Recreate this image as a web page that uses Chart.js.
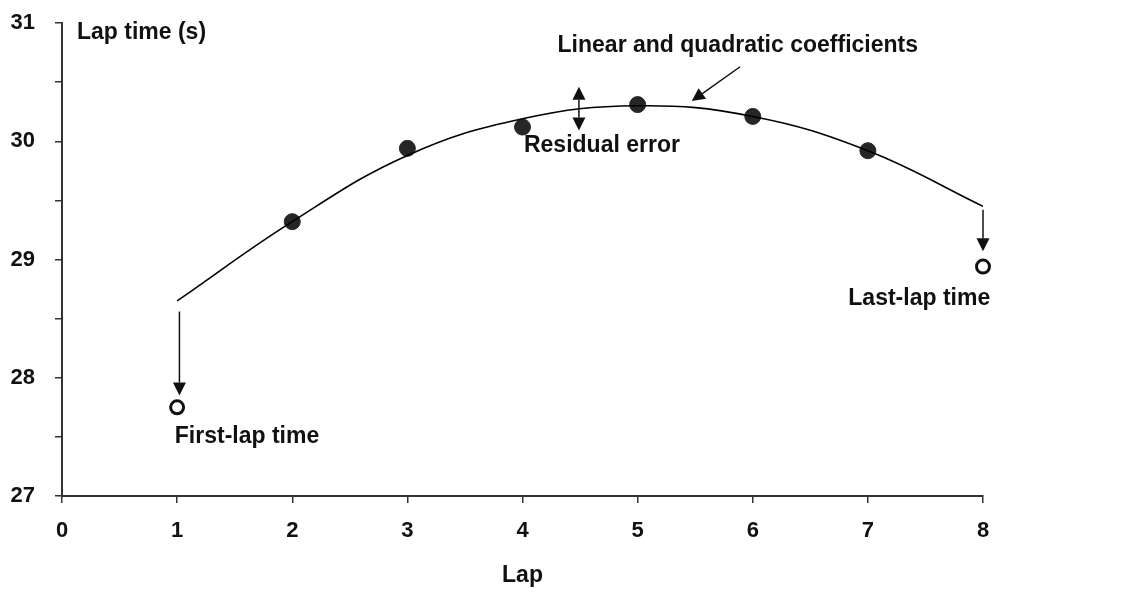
<!DOCTYPE html>
<html>
<head>
<meta charset="utf-8">
<script src="https://cdn.jsdelivr.net/npm/chart.js@4.4.1/dist/chart.umd.min.js"></script>
<style>
  html, body { margin: 0; background: #fff; }
  #wrap { width: 1147px; height: 597px; }
</style>
</head>
<body>
<div id="wrap"><canvas id="lapChart"></canvas></div>
<script>
// laps and times
const laps = [1, 2, 3, 4, 5, 6, 7, 8];
const fitTimes = [28.65, 29.32, 29.88, 30.19, 30.30, 30.21, 29.92, 29.45];
const middleLaps = [2, 3, 4, 5, 6, 7];
const middleTimes = [29.32, 29.94, 30.12, 30.31, 30.21, 29.92];
const endLaps = [1, 8];
const endTimes = [27.75, 28.94];

// annotations, in data units
const arrows = [
  { from: [1.02, 28.56], to: [1.02, 27.85] },
  { from: [8.0, 29.42], to: [8.0, 29.07] },
  { from: [5.89, 30.63], to: [5.47, 30.34] },
  { from: [4.49, 30.27], to: [4.49, 30.46] },
  { from: [4.49, 30.27], to: [4.49, 30.09] }
];
const notes = [
  { text: 'Lap time (s)', at: [0.13, 30.92], align: 'left' },
  { text: 'Linear and quadratic coefficients', at: [5.87, 30.81], align: 'center' },
  { text: 'Residual error', at: [4.69, 29.96], align: 'center' },
  { text: 'First-lap time', at: [0.98, 27.5], align: 'left' },
  { text: 'Last-lap time', at: [6.83, 28.67], align: 'left' }
];

const FONT = '"Liberation Sans", Arial, sans-serif';
const ink = '#111';

const annotate = {
  id: 'annotate',
  afterDatasetsDraw(chart) {
    const { ctx, scales: { x, y } } = chart;
    ctx.save();
    ctx.strokeStyle = ink;
    ctx.fillStyle = ink;
    ctx.lineWidth = 1.5;
    arrows.forEach(a => {
      const x1 = x.getPixelForValue(a.from[0]), y1 = y.getPixelForValue(a.from[1]);
      const x2 = x.getPixelForValue(a.to[0]), y2 = y.getPixelForValue(a.to[1]);
      const ang = Math.atan2(y2 - y1, x2 - x1);
      const len = 13, half = 6.5;
      const bx = x2 - len * Math.cos(ang), by = y2 - len * Math.sin(ang);
      ctx.beginPath();
      ctx.moveTo(x1, y1);
      ctx.lineTo(bx, by);
      ctx.stroke();
      ctx.beginPath();
      ctx.moveTo(x2, y2);
      ctx.lineTo(bx + half * Math.sin(ang), by - half * Math.cos(ang));
      ctx.lineTo(bx - half * Math.sin(ang), by + half * Math.cos(ang));
      ctx.closePath();
      ctx.fill();
    });
    ctx.font = 'bold 23px ' + FONT;
    ctx.textBaseline = 'middle';
    notes.forEach(n => {
      ctx.textAlign = n.align;
      ctx.fillText(n.text, x.getPixelForValue(n.at[0]), y.getPixelForValue(n.at[1]));
    });
    ctx.restore();
  }
};

new Chart(document.getElementById('lapChart'), {
  type: 'scatter',
  data: {
    datasets: [
      {
        data: laps.map((l, i) => ({ x: l, y: fitTimes[i] })),
        showLine: true,
        tension: 0.4,
        borderColor: '#000',
        borderWidth: 1.6,
        pointRadius: 0
      },
      {
        data: middleLaps.map((l, i) => ({ x: l, y: middleTimes[i] })),
        pointRadius: 8,
        backgroundColor: '#262626',
        borderColor: '#262626',
        borderWidth: 1
      },
      {
        data: endLaps.map((l, i) => ({ x: l, y: endTimes[i] })),
        pointRadius: 6.5,
        backgroundColor: '#fff',
        borderColor: ink,
        borderWidth: 3,
        clip: false
      }
    ]
  },
  options: {
    responsive: true,
    maintainAspectRatio: false,
    animation: false,
    layout: { padding: { top: 23, right: 164, left: 0, bottom: 0 } },
    plugins: { legend: { display: false }, tooltip: { enabled: false } },
    scales: {
      x: {
        type: 'linear',
        min: 0,
        max: 8,
        ticks: { stepSize: 1, padding: 15, color: ink, font: { family: FONT, size: 22, weight: 'bold' } },
        grid: { drawOnChartArea: false, tickLength: 7, color: '#333', lineWidth: 1.5 },
        border: { color: '#333', width: 2 },
        title: { display: true, text: 'Lap', color: ink, padding: { top: 10, bottom: 8 }, font: { family: FONT, size: 23, weight: 'bold' } },
        afterFit: s => { s.height = 101; }
      },
      y: {
        min: 27,
        max: 31,
        ticks: {
          stepSize: 0.5,
          padding: 20,
          color: ink,
          font: { family: FONT, size: 22, weight: 'bold' },
          callback: v => Number.isInteger(v) ? v : ''
        },
        grid: { drawOnChartArea: false, tickLength: 7, color: '#333', lineWidth: 1.5 },
        border: { color: '#333', width: 2 },
        afterFit: s => { s.width = 62; s.paddingTop = 0; }
      }
    }
  },
  plugins: [annotate]
});
</script>
</body>
</html>
